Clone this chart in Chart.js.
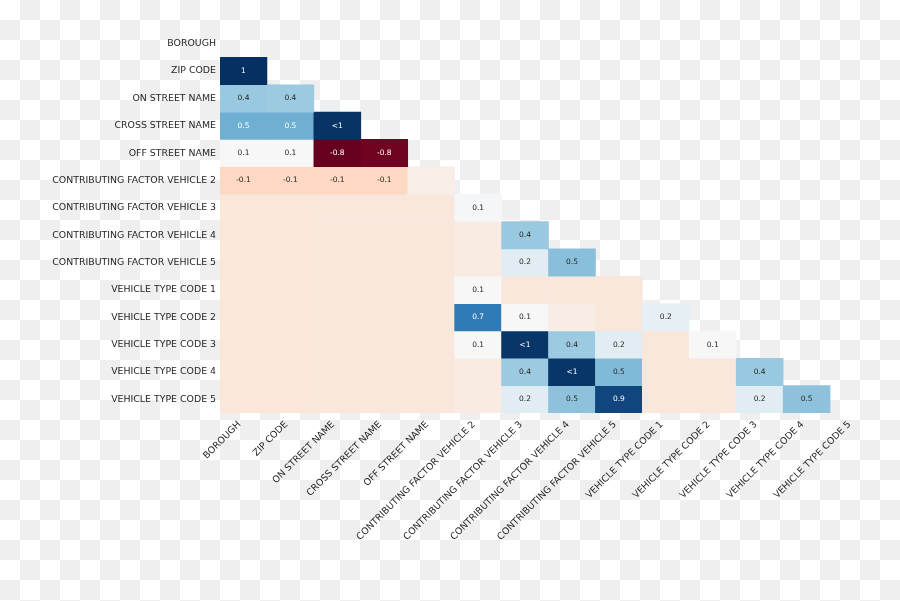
<!DOCTYPE html>
<html>
<head>
<meta charset="utf-8">
<script src="https://cdn.jsdelivr.net/npm/chart.js@4"></script>
<style>
  html, body { margin: 0; padding: 0; }
  body {
    width: 900px; height: 601px; overflow: hidden;
    background: repeating-conic-gradient(#efefef 0 25%, #ffffff 0 50%) 0 0 / 40px 40px;
  }
  canvas { display: block; }
</style>
</head>
<body>
<canvas id="heat" width="900" height="601"></canvas>
<script>
// Column names, top to bottom / left to right
const fields = [
    'BOROUGH', 'ZIP CODE', 'ON STREET NAME', 'CROSS STREET NAME', 'OFF STREET NAME',
    'CONTRIBUTING FACTOR VEHICLE 2', 'CONTRIBUTING FACTOR VEHICLE 3',
    'CONTRIBUTING FACTOR VEHICLE 4', 'CONTRIBUTING FACTOR VEHICLE 5',
    'VEHICLE TYPE CODE 1', 'VEHICLE TYPE CODE 2', 'VEHICLE TYPE CODE 3',
    'VEHICLE TYPE CODE 4', 'VEHICLE TYPE CODE 5'
];

// Nullity correlation, lower triangle only (row i has i values)
const rowBorough = [];
const rowZip = [1];
const rowOn = [0.44, 0.43];
const rowCross = [0.54, 0.54, 0.99];
const rowOff = [0.1, 0.1, -0.8, -0.78];
const rowCfv2 = [-0.09, -0.09, -0.09, -0.09, 0.04];
const rowCfv3 = [-0.01, -0.01, 0, 0, 0, 0.11];
const rowCfv4 = [-0.01, -0.01, 0, 0, 0, 0.02, 0.44];
const rowCfv5 = [-0.01, -0.01, 0, 0, 0, 0.02, 0.2, 0.48];
const rowVtc1 = [-0.01, -0.01, 0, 0, 0, 0.1, 0, 0, 0];
const rowVtc2 = [-0.01, -0.01, 0, 0, 0, 0.74, 0.1, 0.03, 0, 0.18];
const rowVtc3 = [-0.01, -0.01, 0, 0, 0, 0.1, 0.98, 0.43, 0.2, 0, 0.1];
const rowVtc4 = [-0.01, -0.01, 0, 0, 0, 0.02, 0.43, 0.98, 0.5, 0, 0, 0.44];
const rowVtc5 = [-0.01, -0.01, 0, 0, 0, 0.02, 0.2, 0.47, 0.93, 0, 0, 0.2, 0.47];

const nullity = [rowBorough, rowZip, rowOn, rowCross, rowOff, rowCfv2, rowCfv3,
    rowCfv4, rowCfv5, rowVtc1, rowVtc2, rowVtc3, rowVtc4, rowVtc5];

const vmin = -0.8;
const vmax = 1;

// RdBu colormap stops
const rdbu = ['#67001f', '#b2182b', '#d6604d', '#f4a582', '#fddbc7', '#f7f7f7',
    '#d1e5f0', '#92c5de', '#4393c3', '#2166ac', '#053061'];

function hexRgb(h) {
    return [1, 3, 5].map(k => parseInt(h.substr(k, 2), 16));
}

function cellRgb(v) {
    let t = (v - vmin) / (vmax - vmin);
    t = Math.max(0, Math.min(1, t)) * (rdbu.length - 1);
    const k = Math.min(Math.floor(t), rdbu.length - 2);
    const f = t - k;
    const a = hexRgb(rdbu[k]), b = hexRgb(rdbu[k + 1]);
    return a.map((c, n) => Math.round(c + (b[n] - c) * f));
}

function cellColor(v) {
    const c = cellRgb(v);
    return `rgb(${c[0]},${c[1]},${c[2]})`;
}

// same rule as seaborn: dark text on light cells
function textColor(v) {
    const lum = cellRgb(v).map(c => {
        c = c / 255;
        return c <= 0.03928 ? c / 12.92 : Math.pow((c + 0.055) / 1.055, 2.4);
    });
    const l = 0.2126 * lum[0] + 0.7152 * lum[1] + 0.0722 * lum[2];
    return l > 0.408 ? '#262626' : '#ffffff';
}

function cellLabel(v) {
    if (v === 1) return '1';
    if (v >= 0.95 && v < 1) return '<1';
    if (v <= -0.95 && v > -1) return '>-1';
    if (v > -0.05 && v < 0.05) return '';
    return String(Math.round(v * 10) / 10);
}

const cellText = {
    id: 'cellText',
    afterDatasetsDraw(chart) {
        const ctx = chart.ctx;
        ctx.save();
        ctx.font = '7.5px "DejaVu Sans"';
        ctx.textAlign = 'center';
        ctx.textBaseline = 'middle';
        chart.data.datasets.forEach((ds, i) => {
            chart.getDatasetMeta(i).data.forEach((bar, j) => {
                if (j >= i) return;
                const txt = cellLabel(nullity[i][j]);
                if (!txt) return;
                const p = bar.getCenterPoint();
                ctx.fillStyle = textColor(nullity[i][j]);
                ctx.fillText(txt, p.x, p.y);
            });
        });
        ctx.restore();
    }
};

const datasets = nullity.map((row, i) => ({
    label: fields[i],
    data: fields.map((f, j) => j < i ? [i - 0.5, i + 0.5] : null),
    backgroundColor: fields.map((f, j) => j < i ? cellColor(row[j]) : 'transparent'),
    borderWidth: 0,
    grouped: false,
    barPercentage: 1,
    categoryPercentage: 1
}));

const labelFont = { family: 'DejaVu Sans', size: 9.4 };

new Chart(document.getElementById('heat'), {
    type: 'bar',
    data: { labels: fields, datasets: datasets },
    options: {
        responsive: false,
        animation: false,
        devicePixelRatio: 1,
        layout: { padding: { top: 30, right: 23, left: 0, bottom: 0 } },
        plugins: {
            legend: { display: false },
            tooltip: { enabled: false }
        },
        scales: {
            x: {
                type: 'category',
                grid: { display: false },
                border: { display: false },
                ticks: {
                    color: '#262626',
                    font: labelFont,
                    autoSkip: false,
                    minRotation: 45,
                    maxRotation: 45,
                    padding: -2,
                    labelOffset: -4
                },
                afterFit: s => { s.height = 188; }
            },
            y: {
                type: 'linear',
                reverse: true,
                min: -0.5,
                max: 13.5,
                grid: { display: false, drawTicks: false },
                border: { display: false },
                afterBuildTicks: s => { s.ticks = fields.map((f, i) => ({ value: i })); },
                ticks: {
                    autoSkip: false,
                    color: '#262626',
                    font: labelFont,
                    padding: 4,
                    callback: v => fields[v]
                },
                afterFit: s => { s.width = 220; }
            }
        }
    },
    plugins: [cellText]
});
</script>
</body>
</html>
